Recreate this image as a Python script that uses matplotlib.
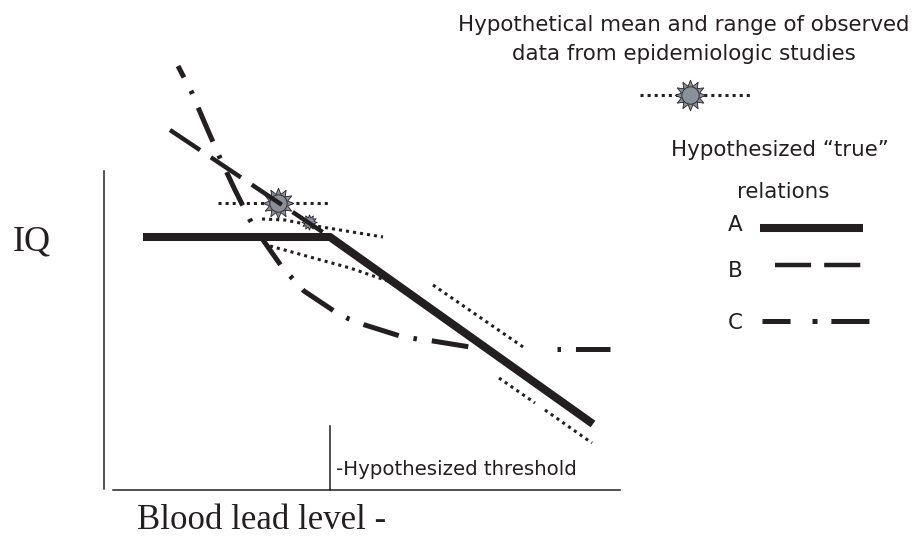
import numpy as np
import matplotlib.pyplot as plt
from matplotlib.path import Path

plt.rcParams['lines.scale_dashes'] = False

# Schematic coordinates: x = blood lead (arbitrary units), y = IQ (arbitrary units)
# Relation A: flat up to the threshold, then linear decline
a_x = [39, 226, 489]
a_y = [253, 253, 66]
threshold_x = 226

# Relation B: linear decline that meets A at the threshold
b_x = [66, 226]
b_y = [360, 253]

# Relation C: steep at low levels, flattening at high levels
c_x = [74, 88, 102, 116, 131, 146, 159, 178, 188, 200, 230, 245, 261, 296, 313, 329, 366, 383, 391]
c_y = [424, 397, 364, 332, 300, 270, 250, 223, 212, 199, 179, 171, 165, 154, 151, 149, 143, 142, 142]
c_tail_x = [453, 506]
c_tail_y = [141, 141]

# Observed data: means and ranges
obs_mean_x = [174, 205]
obs_mean_y = [287, 268]
range1_x = [114, 224]
range1_y = [287, 287]
range2_x = [158, 181, 206, 236, 279]
range2_y = [271, 270, 265, 260, 253]
range3_x = [166, 246, 284]
range3_y = [244, 222, 209]
range4_x = [329, 422]
range4_y = [205, 141]
range5_x = [395, 431, np.nan, 441, 488]
range5_y = [112, 87, np.nan, 80, 47]

ink = '#231f20'
star_fill = '#8a9099'
sans = 'DejaVu Sans'
serif = 'Liberation Serif'

# star-burst marker
n = 12
ang = np.linspace(0, 2 * np.pi, 2 * n, endpoint=False) + np.pi / 2
rad = np.where(np.arange(2 * n) % 2 == 0, 1.0, 0.62)
verts = np.column_stack([rad * np.cos(ang), rad * np.sin(ang)])
verts = np.vstack([verts, verts[:1]])
star = Path(verts, [Path.MOVETO] + [Path.LINETO] * (2 * n - 1) + [Path.CLOSEPOLY])

fig = plt.figure(figsize=(9.19, 5.41), dpi=100)
ax = fig.add_axes([0, 0, 1, 1])
ax.set_xlim(-104, 815)
ax.set_ylim(-51, 490)
ax.axis('off')

# axes and threshold
ax.plot([0, 0], [1, 319], color=ink, lw=1.1)
ax.plot([9, 516], [0, 0], color=ink, lw=1.1)
ax.plot([threshold_x, threshold_x], [0, 64], color=ink, lw=1.1)

dotted = (0, (2.2, 2.9))
dot_kw = dict(color=ink, lw=2.2, linestyle=dotted, dash_capstyle='butt', zorder=2)
for rx, ry in [(range1_x, range1_y), (range2_x, range2_y), (range3_x, range3_y),
               (range4_x, range4_y), (range5_x, range5_y)]:
    ax.plot(rx, ry, **dot_kw)

# observed means
ax.plot(obs_mean_x[1], obs_mean_y[1], marker=star, ms=11, mfc=star_fill, mec=ink, mew=0.6, zorder=3)
ax.plot(obs_mean_x[0], obs_mean_y[0], marker=star, ms=22, mfc=star_fill, mec=ink, mew=0.6, zorder=3)
ax.plot(obs_mean_x[0], obs_mean_y[0], marker='o', ms=12.5, mfc=star_fill, mec=ink, mew=0.6, zorder=3)

# true relations
b_style = (0, (26, 9.4))
c_pattern = (26.6, 10.8, 2.5, 10.8)
c_style = (17.3, c_pattern)
c_tail_style = (26.6 + 10.8, c_pattern)
ax.plot(a_x, a_y, color=ink, lw=5.8, solid_capstyle='butt', solid_joinstyle='miter', zorder=5)
ax.plot(b_x, b_y, color=ink, lw=3.2, linestyle=b_style, dash_capstyle='butt', zorder=4)
ax.plot(c_x, c_y, color=ink, lw=3.6, linestyle=c_style, dash_capstyle='butt', zorder=4)
ax.plot(c_tail_x, c_tail_y, color=ink, lw=3.6, linestyle=c_tail_style, dash_capstyle='butt', zorder=4)

# legend block
ax.text(580, 459, 'Hypothetical mean and range of observed', ha='center', va='baseline',
        fontsize=15.4, family=sans, color=ink)
ax.text(580, 430, 'data from epidemiologic studies', ha='center', va='baseline',
        fontsize=15.4, family=sans, color=ink)
ax.plot([536, 646], [395, 395], **dot_kw)
ax.plot(586, 395, marker=star, ms=22, mfc=star_fill, mec=ink, mew=0.6, zorder=3)
ax.plot(586, 395, marker='o', ms=12.5, mfc=star_fill, mec=ink, mew=0.6, zorder=3)

ax.text(676, 334, 'Hypothesized \u201ctrue\u201d', ha='center', va='baseline',
        fontsize=15.4, family=sans, color=ink)
ax.text(679, 292, 'relations', ha='center', va='baseline', fontsize=15.4, family=sans, color=ink)
ax.text(631, 259, 'A', ha='center', va='baseline', fontsize=15.4, family=sans, color=ink)
ax.text(631, 213, 'B', ha='center', va='baseline', fontsize=15.4, family=sans, color=ink)
ax.text(631, 161, 'C', ha='center', va='baseline', fontsize=15.4, family=sans, color=ink)
ax.plot([656, 759], [262, 262], color=ink, lw=5.8, solid_capstyle='butt')
ax.plot([671, 759], [225, 225], color=ink, lw=3.2, linestyle=b_style, dash_capstyle='butt')
ax.plot([658, 765], [169, 169], color=ink, lw=3.6,
        linestyle=(0, (20.2, 15.8, 3.6, 10, 27.4, 10)), dash_capstyle='butt')

# axis labels
ax.text(-72, 239, 'IQ', ha='center', va='baseline', fontsize=26, family=serif, color=ink)
ax.text(158, -39, 'Blood lead level -', ha='center', va='baseline', fontsize=25, family=serif,
        color=ink)
ax.text(232, 15, '-Hypothesized threshold', ha='left', va='baseline', fontsize=14.2,
        family=sans, color=ink)

fig.savefig('out.png', dpi=100)
